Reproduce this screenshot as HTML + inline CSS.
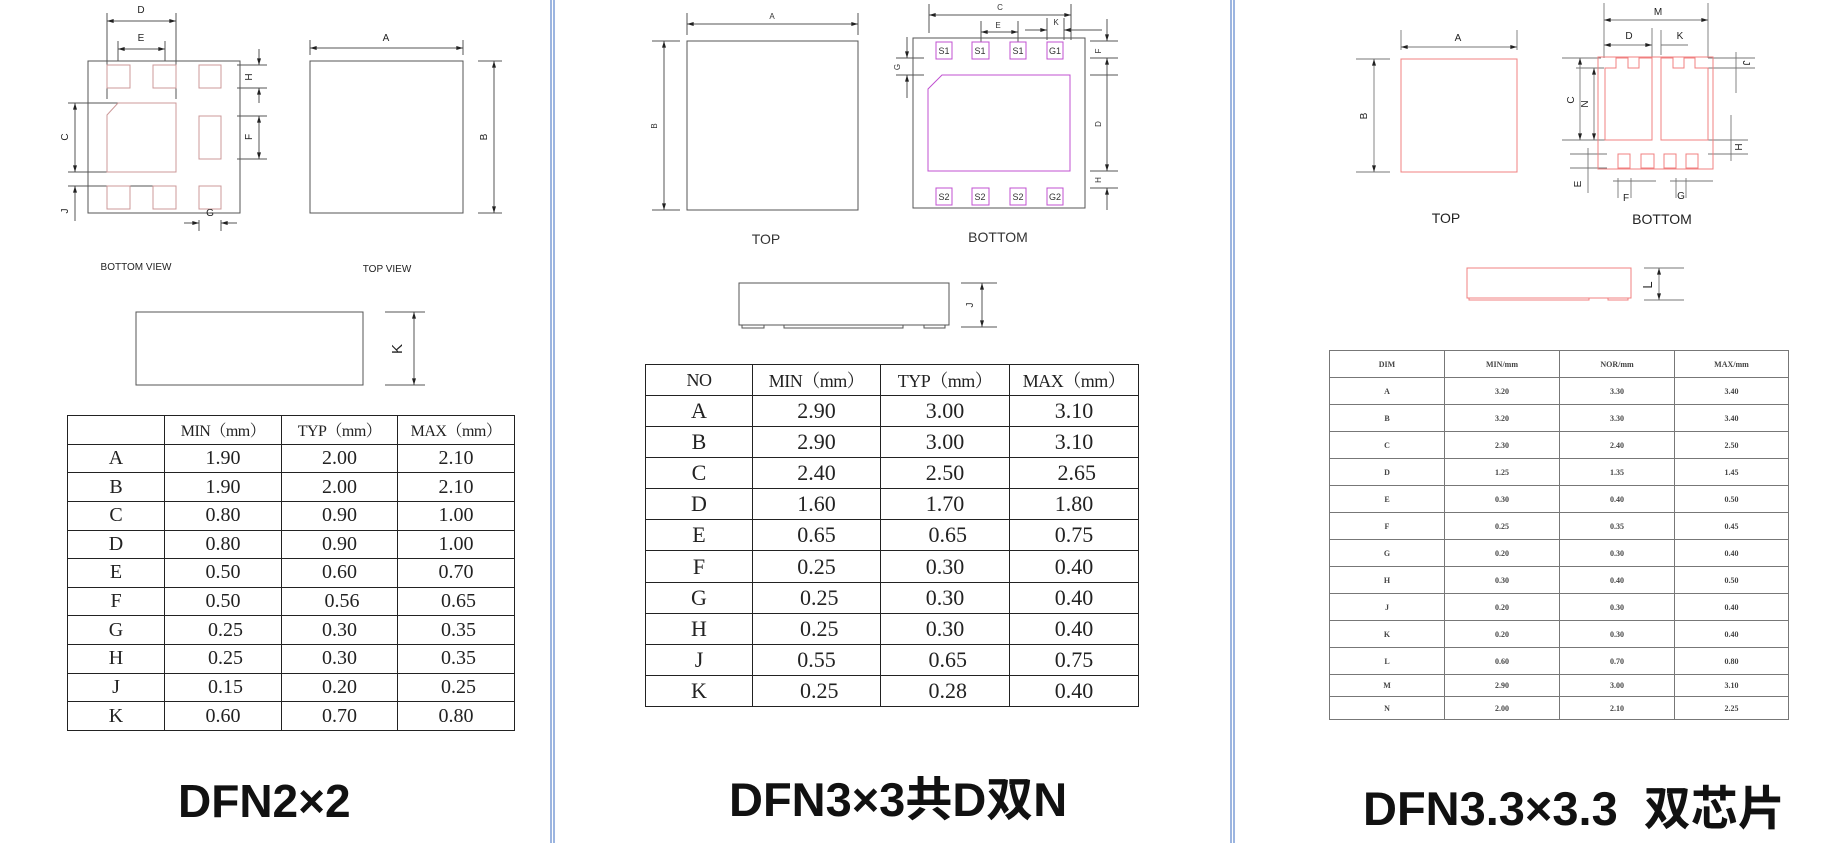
<!DOCTYPE html>
<html><head><meta charset="utf-8"><style>
html,body{margin:0;padding:0;background:#fff;}
body{width:1840px;height:843px;position:relative;overflow:hidden;}
svg{position:absolute;left:0;top:0;}
table{position:absolute;border-collapse:collapse;table-layout:fixed;}
td{border:1.5px solid #222;text-align:center;padding:0;white-space:nowrap;overflow:hidden;}
.t1 td{font-family:"Liberation Serif","Noto Serif CJK SC",serif;font-size:20px;color:#222;height:27px;}
.t1 tr:first-child td{font-size:16px;letter-spacing:-0.5px;}
.t2 td{font-family:"Liberation Serif","Noto Serif CJK SC",serif;font-size:22px;color:#222;height:29.5px;}
.t2 tr:first-child td{font-size:18px;letter-spacing:-0.5px;}
.t3 td{border:1px solid #777;font-family:"Liberation Serif",serif;font-size:8px;font-weight:bold;color:#444;}
.title{position:absolute;font-family:"Liberation Sans","Noto Sans CJK SC",sans-serif;font-weight:bold;font-size:46px;color:#111;white-space:nowrap;line-height:1;}
</style></head><body>
<svg width="1840" height="843" viewBox="0 0 1840 843" font-family="Liberation Sans, sans-serif">
<defs>
<marker id="ar" viewBox="0 0 10 6" refX="10" refY="3" markerWidth="7" markerHeight="4" markerUnits="userSpaceOnUse" orient="auto-start-reverse"><path d="M0,0L10,3L0,6z" fill="#222"/></marker>
</defs>
<g stroke="#5b84cc" stroke-width="1.2"><line x1="551" y1="0" x2="551" y2="843"/><line x1="554" y1="0" x2="554" y2="843"/><line x1="1231" y1="0" x2="1231" y2="843"/><line x1="1234" y1="0" x2="1234" y2="843"/></g>

<g fill="none" stroke="#555" stroke-width="1">
<rect x="88" y="61" width="152" height="152"/>
<line x1="107" y1="13" x2="107" y2="99"/><line x1="176" y1="13" x2="176" y2="99"/>
<line x1="107" y1="21" x2="176" y2="21" marker-start="url(#ar)" marker-end="url(#ar)"/>
<line x1="118" y1="41" x2="118" y2="61"/><line x1="165" y1="41" x2="165" y2="61"/>
<line x1="118" y1="49" x2="165" y2="49" marker-start="url(#ar)" marker-end="url(#ar)"/>
<line x1="237" y1="65" x2="267" y2="65"/><line x1="237" y1="88" x2="267" y2="88"/>
<line x1="259" y1="49" x2="259" y2="65" marker-end="url(#ar)"/><line x1="259" y1="103" x2="259" y2="88" marker-end="url(#ar)"/>
<line x1="237" y1="116" x2="267" y2="116"/><line x1="237" y1="159" x2="267" y2="159"/>
<line x1="259" y1="116" x2="259" y2="159" marker-start="url(#ar)" marker-end="url(#ar)"/>
<line x1="68" y1="103" x2="161" y2="103"/><line x1="68" y1="172" x2="161" y2="172"/>
<line x1="75" y1="103" x2="75" y2="172" marker-start="url(#ar)" marker-end="url(#ar)"/>
<line x1="68" y1="186" x2="161" y2="186"/>
<line x1="75" y1="221" x2="75" y2="186" marker-end="url(#ar)"/>
<line x1="199" y1="220" x2="199" y2="231"/><line x1="221" y1="220" x2="221" y2="231"/>
<line x1="184" y1="223" x2="199" y2="223" marker-end="url(#ar)"/><line x1="237" y1="223" x2="221" y2="223" marker-end="url(#ar)"/>
<rect x="310" y="61" width="153" height="152"/>
<line x1="310" y1="40" x2="310" y2="55"/><line x1="463" y1="40" x2="463" y2="55"/>
<line x1="310" y1="48" x2="463" y2="48" marker-start="url(#ar)" marker-end="url(#ar)"/>
<line x1="478" y1="61" x2="502" y2="61"/><line x1="478" y1="213" x2="502" y2="213"/>
<line x1="494" y1="61" x2="494" y2="213" marker-start="url(#ar)" marker-end="url(#ar)"/>
<rect x="136" y="312" width="227" height="73"/>
<line x1="385" y1="312" x2="425" y2="312"/><line x1="385" y1="385" x2="425" y2="385"/>
<line x1="414" y1="312" x2="414" y2="385" marker-start="url(#ar)" marker-end="url(#ar)"/>
</g>
<g fill="none" stroke="#c99" stroke-width="1">
<rect x="107" y="65" width="23" height="23"/><rect x="153" y="65" width="23" height="23"/><rect x="199" y="65" width="22" height="23"/>
<path d="M107,115L118,103H176V172H107Z"/>
<rect x="199" y="116" width="22" height="43"/>
<rect x="107" y="186" width="23" height="23"/><rect x="153" y="186" width="23" height="23"/><rect x="199" y="186" width="22" height="23"/>
</g>
<g font-size="10" fill="#222" text-anchor="middle">
<text x="141" y="13">D</text><text x="141" y="41">E</text><text x="386" y="41">A</text><text x="210" y="216">G</text>
<text transform="translate(252,77) rotate(-90)">H</text>
<text transform="translate(252,137) rotate(-90)">F</text>
<text transform="translate(68,137) rotate(-90)">C</text>
<text transform="translate(68,211) rotate(-90)">J</text>
<text transform="translate(487,137) rotate(-90)">B</text>
<text x="136" y="270">BOTTOM   VIEW</text><text x="387" y="272">TOP   VIEW</text>
<text transform="translate(402,349) rotate(-90)" font-size="15">K</text>
</g>

<g fill="none" stroke="#555" stroke-width="1">
<rect x="687" y="41" width="171" height="169"/>
<line x1="687" y1="13" x2="687" y2="35"/><line x1="858" y1="13" x2="858" y2="35"/>
<line x1="687" y1="24" x2="858" y2="24" marker-start="url(#ar)" marker-end="url(#ar)"/>
<line x1="652" y1="41" x2="680" y2="41"/><line x1="652" y1="210" x2="680" y2="210"/>
<line x1="664" y1="41" x2="664" y2="210" marker-start="url(#ar)" marker-end="url(#ar)"/>
<rect x="913" y="38" width="172" height="170"/>
<line x1="929" y1="4" x2="929" y2="33"/><line x1="1071" y1="4" x2="1071" y2="40"/>
<line x1="929" y1="15" x2="1071" y2="15" marker-start="url(#ar)" marker-end="url(#ar)"/>
<line x1="981" y1="21" x2="981" y2="42"/><line x1="1018" y1="21" x2="1018" y2="42"/>
<line x1="981" y1="32" x2="1018" y2="32" marker-start="url(#ar)" marker-end="url(#ar)"/>
<line x1="1047" y1="18" x2="1047" y2="40"/><line x1="1064" y1="18" x2="1064" y2="40"/>
<line x1="1025" y1="30" x2="1047" y2="30" marker-end="url(#ar)"/><line x1="1102" y1="30" x2="1064" y2="30" marker-end="url(#ar)"/>
<line x1="1090" y1="41" x2="1118" y2="41"/><line x1="1090" y1="58" x2="1118" y2="58"/>
<line x1="1090" y1="75" x2="1118" y2="75"/><line x1="1090" y1="171" x2="1118" y2="171"/><line x1="1090" y1="188" x2="1118" y2="188"/>
<line x1="1107" y1="19" x2="1107" y2="41" marker-end="url(#ar)"/>
<line x1="1107" y1="58" x2="1107" y2="171" marker-start="url(#ar)" marker-end="url(#ar)"/>
<line x1="1107" y1="210" x2="1107" y2="188" marker-end="url(#ar)"/>
<line x1="896" y1="58" x2="924" y2="58"/><line x1="896" y1="75" x2="924" y2="75"/>
<line x1="907" y1="37" x2="907" y2="58" marker-end="url(#ar)"/><line x1="907" y1="98" x2="907" y2="75" marker-end="url(#ar)"/>
<rect x="739" y="283" width="210" height="42"/>
<rect x="742" y="325" width="22" height="3"/><rect x="784" y="325" width="119" height="3"/><rect x="924" y="325" width="21" height="3"/>
<line x1="961" y1="283" x2="997" y2="283"/><line x1="961" y1="327" x2="997" y2="327"/>
<line x1="982" y1="283" x2="982" y2="327" marker-start="url(#ar)" marker-end="url(#ar)"/>
</g>
<g fill="none" stroke="#c050d0" stroke-width="1">
<rect x="936" y="42" width="16" height="17"/><rect x="972" y="42" width="17" height="17"/><rect x="1010" y="42" width="16" height="17"/><rect x="1047" y="42" width="16" height="17"/>
<rect x="936" y="188" width="16" height="17"/><rect x="972" y="188" width="17" height="17"/><rect x="1010" y="188" width="16" height="17"/><rect x="1047" y="188" width="16" height="17"/>
<path d="M928,89L942,75H1070V171H928Z"/>
</g>
<g font-size="8" fill="#333" text-anchor="middle">
<text x="772" y="19">A</text><text x="1000" y="10">C</text><text x="998" y="28">E</text><text x="1056" y="25">K</text>
<text transform="translate(657,126) rotate(-90)">B</text>
<text transform="translate(900,67) rotate(-90)">G</text>
<text transform="translate(1101,51) rotate(-90)">F</text>
<text transform="translate(1101,124) rotate(-90)">D</text>
<text transform="translate(1101,180) rotate(-90)">H</text>
<text transform="translate(973,305) rotate(-90)" font-size="10">J</text>
<g font-size="9"><text x="944" y="54">S1</text><text x="980" y="54">S1</text><text x="1018" y="54">S1</text><text x="1055" y="54">G1</text>
<text x="944" y="200">S2</text><text x="980" y="200">S2</text><text x="1018" y="200">S2</text><text x="1055" y="200">G2</text></g>
<text x="766" y="244" font-size="14">TOP</text><text x="998" y="242" font-size="14">BOTTOM</text>
</g>

<g fill="none" stroke="#777" stroke-width="0.9">
<line x1="1401" y1="30" x2="1401" y2="50"/><line x1="1517" y1="30" x2="1517" y2="50"/>
<line x1="1401" y1="47" x2="1517" y2="47" marker-start="url(#ar)" marker-end="url(#ar)"/>
<line x1="1356" y1="59" x2="1390" y2="59"/><line x1="1356" y1="172" x2="1390" y2="172"/>
<line x1="1374" y1="59" x2="1374" y2="172" marker-start="url(#ar)" marker-end="url(#ar)"/>
<line x1="1604" y1="3" x2="1604" y2="58"/><line x1="1708" y1="3" x2="1708" y2="58"/>
<line x1="1604" y1="20" x2="1708" y2="20" marker-start="url(#ar)" marker-end="url(#ar)"/>
<line x1="1652" y1="28" x2="1652" y2="58"/><line x1="1661" y1="30" x2="1661" y2="55"/>
<line x1="1604" y1="45" x2="1652" y2="45" marker-start="url(#ar)" marker-end="url(#ar)"/>
<line x1="1661" y1="45" x2="1688" y2="45"/>
<line x1="1708" y1="58" x2="1755" y2="58"/><line x1="1708" y1="68" x2="1755" y2="68"/>
<line x1="1736" y1="52" x2="1736" y2="93"/>
<line x1="1708" y1="140" x2="1748" y2="140"/><line x1="1708" y1="154" x2="1748" y2="154"/>
<line x1="1731" y1="115" x2="1731" y2="161"/>
<line x1="1562" y1="58" x2="1601" y2="58"/><line x1="1562" y1="140" x2="1610" y2="140"/>
<line x1="1580" y1="58" x2="1580" y2="140" marker-start="url(#ar)" marker-end="url(#ar)"/>
<line x1="1576" y1="68" x2="1604" y2="68"/>
<line x1="1594" y1="68" x2="1594" y2="140" marker-start="url(#ar)" marker-end="url(#ar)"/>
<line x1="1570" y1="154" x2="1607" y2="154"/><line x1="1570" y1="168" x2="1607" y2="168"/>
<line x1="1588" y1="148" x2="1588" y2="193"/>
<line x1="1618" y1="178" x2="1618" y2="198"/><line x1="1631" y1="178" x2="1631" y2="198"/>
<line x1="1613" y1="181" x2="1656" y2="181"/>
<line x1="1676" y1="178" x2="1676" y2="198"/><line x1="1686" y1="178" x2="1686" y2="198"/>
<line x1="1670" y1="181" x2="1713" y2="181"/>
<line x1="1644" y1="268" x2="1684" y2="268"/><line x1="1644" y1="300" x2="1684" y2="300"/>
<line x1="1659" y1="268" x2="1659" y2="300" marker-start="url(#ar)" marker-end="url(#ar)"/>
</g>
<g fill="none" stroke="#f08080" stroke-width="1">
<rect x="1401" y="59" width="116" height="113"/>
<rect x="1598" y="57" width="115" height="112"/>
<path d="M1605,140V68H1616V58H1628V68H1639V58H1652V140Z"/>
<path d="M1661,140V58H1673V68H1684V58H1695V68H1708V140Z"/>
<rect x="1618" y="154" width="12" height="14"/><rect x="1641" y="154" width="13" height="14"/><rect x="1664" y="154" width="12" height="14"/><rect x="1686" y="154" width="12" height="14"/>
<rect x="1467" y="268" width="164" height="30"/>
<rect x="1469" y="298" width="120" height="2"/><rect x="1608" y="298" width="20" height="2"/>
</g>
<g font-size="10" fill="#222" text-anchor="middle">
<text x="1458" y="41">A</text><text x="1658" y="15">M</text><text x="1629" y="39">D</text><text x="1680" y="39">K</text>
<text x="1626" y="201">F</text><text x="1681" y="199">G</text>
<text transform="translate(1367,116) rotate(-90)">B</text>
<text transform="translate(1574,100) rotate(-90)">C</text>
<text transform="translate(1588,104) rotate(-90)">N</text>
<text transform="translate(1581,184) rotate(-90)">E</text>
<text transform="translate(1743,63) rotate(90)">J</text>
<text transform="translate(1735,147) rotate(90)">H</text>
<text transform="translate(1652,285) rotate(-90)" font-size="13">L</text>
<text x="1446" y="223" font-size="14">TOP</text><text x="1662" y="224" font-size="14">BOTTOM</text>
</g>
</svg>

<table class="t1" style="left:67px;top:415px;width:447px;height:316px;">
<colgroup><col style="width:97px"><col style="width:117px"><col style="width:116px"><col style="width:117px"></colgroup>
<tr><td></td><td>MIN（mm）</td><td>TYP（mm）</td><td>MAX（mm）</td></tr>
<tr><td>A</td><td>1.90</td><td>2.00</td><td>2.10</td></tr>
<tr><td>B</td><td>1.90</td><td>2.00</td><td>2.10</td></tr>
<tr><td>C</td><td>0.80</td><td>0.90</td><td>1.00</td></tr>
<tr><td>D</td><td>0.80</td><td>0.90</td><td>1.00</td></tr>
<tr><td>E</td><td>0.50</td><td>0.60</td><td>0.70</td></tr>
<tr><td>F</td><td>0.50</td><td>&nbsp;0.56</td><td>&nbsp;0.65</td></tr>
<tr><td>G</td><td>&nbsp;0.25</td><td>0.30</td><td>&nbsp;0.35</td></tr>
<tr><td>H</td><td>&nbsp;0.25</td><td>0.30</td><td>&nbsp;0.35</td></tr>
<tr><td>J</td><td>&nbsp;0.15</td><td>0.20</td><td>&nbsp;0.25</td></tr>
<tr><td>K</td><td>0.60</td><td>0.70</td><td>0.80</td></tr>
</table>
<div class="title" style="left:178px;top:778px;">DFN2×2</div>

<table class="t2" style="left:645px;top:364px;width:493px;height:343px;">
<colgroup><col style="width:107px"><col style="width:128px"><col style="width:129px"><col style="width:129px"></colgroup>
<tr><td>NO</td><td>MIN（mm）</td><td>TYP（mm）</td><td>MAX（mm）</td></tr>
<tr><td>A</td><td>2.90</td><td>3.00</td><td>3.10</td></tr>
<tr><td>B</td><td>2.90</td><td>3.00</td><td>3.10</td></tr>
<tr><td>C</td><td>2.40</td><td>2.50</td><td>&nbsp;2.65</td></tr>
<tr><td>D</td><td>1.60</td><td>1.70</td><td>1.80</td></tr>
<tr><td>E</td><td>0.65</td><td>&nbsp;0.65</td><td>0.75</td></tr>
<tr><td>F</td><td>0.25</td><td>0.30</td><td>0.40</td></tr>
<tr><td>G</td><td>&nbsp;0.25</td><td>0.30</td><td>0.40</td></tr>
<tr><td>H</td><td>&nbsp;0.25</td><td>0.30</td><td>0.40</td></tr>
<tr><td>J</td><td>0.55</td><td>&nbsp;0.65</td><td>0.75</td></tr>
<tr><td>K</td><td>&nbsp;0.25</td><td>&nbsp;0.28</td><td>0.40</td></tr>
</table>
<div class="title" style="left:729px;top:776px;font-size:47px;">DFN3×3共D双N</div>

<table class="t3" style="left:1329px;top:350px;width:459px;">
<colgroup><col style="width:115px"><col style="width:115px"><col style="width:115px"><col style="width:114px"></colgroup>
<tr style="height:27px"><td>DIM</td><td>MIN/mm</td><td>NOR/mm</td><td>MAX/mm</td></tr>
<tr style="height:27px"><td>A</td><td>3.20</td><td>3.30</td><td>3.40</td></tr>
<tr style="height:27px"><td>B</td><td>3.20</td><td>3.30</td><td>3.40</td></tr>
<tr style="height:27px"><td>C</td><td>2.30</td><td>2.40</td><td>2.50</td></tr>
<tr style="height:27px"><td>D</td><td>1.25</td><td>1.35</td><td>1.45</td></tr>
<tr style="height:27px"><td>E</td><td>0.30</td><td>0.40</td><td>0.50</td></tr>
<tr style="height:27px"><td>F</td><td>0.25</td><td>0.35</td><td>0.45</td></tr>
<tr style="height:27px"><td>G</td><td>0.20</td><td>0.30</td><td>0.40</td></tr>
<tr style="height:27px"><td>H</td><td>0.30</td><td>0.40</td><td>0.50</td></tr>
<tr style="height:27px"><td>J</td><td>0.20</td><td>0.30</td><td>0.40</td></tr>
<tr style="height:27px"><td>K</td><td>0.20</td><td>0.30</td><td>0.40</td></tr>
<tr style="height:27px"><td>L</td><td>0.60</td><td>0.70</td><td>0.80</td></tr>
<tr style="height:22px"><td>M</td><td>2.90</td><td>3.00</td><td>3.10</td></tr>
<tr style="height:23px"><td>N</td><td>2.00</td><td>2.10</td><td>2.25</td></tr>
</table>
<div class="title" style="left:1363px;top:785px;font-size:47px;">DFN3.3×3.3&nbsp; 双芯片</div>
</body></html>
